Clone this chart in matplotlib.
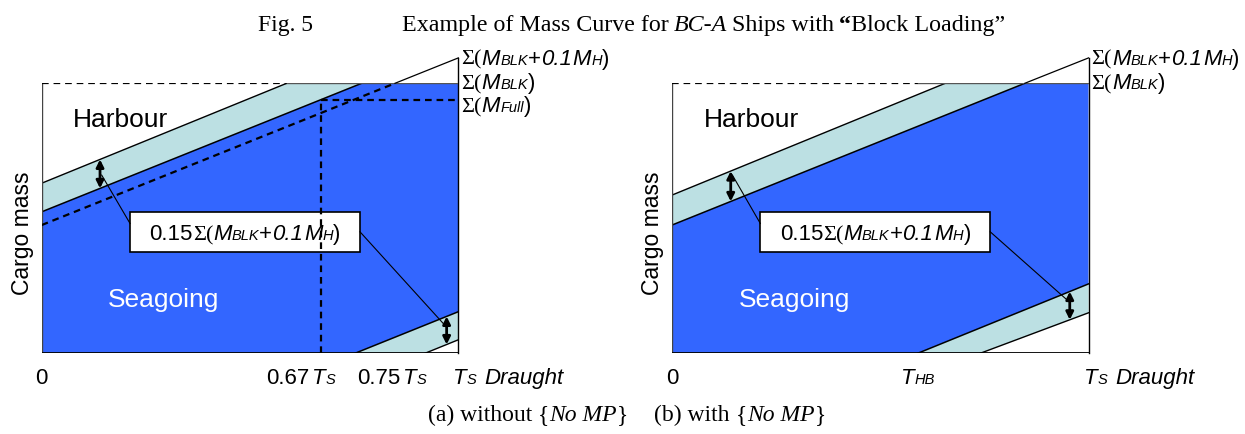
import numpy as np
import matplotlib
matplotlib.use('Agg')
import matplotlib.pyplot as plt
from matplotlib.patches import Polygon, Rectangle

# DATA (x as fraction of Ts, y as fraction of sum(M_BLK))
# panel (a) without {No MP}
a_upper_x = [0, 0.588]          # top of upper light band (harbour limit)
a_upper_y = [0.630, 1.0]
a_blk_x = [0, 0.768]            # top of seagoing region
a_blk_y = [0.524, 1.0]
a_full_x = [0, 0.848, 1.0]      # dashed line, continues to sum(M_BLK+0.1M_H)
a_full_y = [0.475, 1.0, 1.094]
a_lower_x = [0.752, 1.0]        # bottom of seagoing region
a_lower_y = [0, 0.154]
a_bottom_x = [0.92, 1.0]        # bottom of lower light band
a_bottom_y = [0, 0.05]
a_t_part = 0.67
a_m_full = 0.938
a_arrow_x = [0.14, 0.972]

# panel (b) with {No MP}
b_upper_x = [0, 0.656]
b_upper_y = [0.586, 1.0]
b_blk_x = [0, 0.847, 1.0]
b_blk_y = [0.475, 1.0, 1.094]
b_lower_x = [0.59, 1.0]
b_lower_y = [0, 0.257]
b_bottom_x = [0.74, 1.0]
b_bottom_y = [0, 0.15]
b_arrow_x = [0.141, 0.955]
t_hb = 0.59

BLUE = '#3366ff'
LIGHT = '#bce0e3'

W, H = 1245, 434
fig = plt.figure(figsize=(W / 100, H / 100), dpi=100)
renderer = fig.canvas.get_renderer()


# Draw a line of text made of several pieces (display pixels, baseline)
def rich(x, y, pieces, ha='left', color='k'):
    ts, ws = [], []
    for p in pieces:
        if p[0] == '_gap':
            ts.append(None)
            ws.append(p[1])
            continue
        s, size, flags = p
        fam = 'Liberation Serif' if 's' in flags else 'Liberation Sans'
        t = fig.text(0, y, s, transform=None, fontsize=size, family=fam,
                     fontstyle='italic' if 'i' in flags else 'normal',
                     fontweight='bold' if 'b' in flags else 'normal',
                     va='baseline', ha='left', color=color)
        ts.append(t)
        ws.append(t.get_window_extent(renderer).width)
    pos = x - sum(ws) * {'left': 0, 'center': 0.5, 'right': 1}[ha]
    for t, w in zip(ts, ws):
        if t is not None:
            t.set_x(pos)
        pos += w


def disp(ax, x, y):
    return ax.transData.transform((x, y))


def sigma_label(ax, y, inner, dy=-7):
    x0, y0 = disp(ax, 1, y)
    rich(x0 + 3, y0 + dy, [('Σ(', 16, 's')] + inner + [(')', 16, '')])


BLK_PIECES = [('M', 16, 'i'), ('BLK', 10.5, 'i')]
BLKH_PIECES = BLK_PIECES + [('+', 16, ''), ('0.1', 16, 'i'), ('_gap', 1),
                            ('M', 16, 'i'), ('H', 10.5, 'i')]
BOX_PIECES = [('0.15', 16, ''), ('Σ(', 16, 's'), ('M', 16, 'i'), ('BLK', 10.5, 'i'),
              ('+', 16, ''), ('0.1', 16, 'i'), ('_gap', 1), ('M', 16, 'i'),
              ('H', 10.5, 'i'), (')', 16, '')]


def panel(ax, up_x, up_y, blk_x, blk_y, low_x, low_y, bot_x, bot_y, arrow_x):
    ax.set_xlim(0, 1)
    ax.set_ylim(0, 1)
    ax.axis('off')
    # seagoing region and the two 0.15 bands
    ax.add_patch(Polygon([(0, 0), (0, blk_y[0]), (blk_x[1], 1), (1, 1),
                          (1, low_y[1]), (low_x[0], 0)], fc=BLUE, ec='none'))
    ax.add_patch(Polygon([(0, blk_y[0]), (0, up_y[0]), (up_x[1], 1),
                          (blk_x[1], 1)], fc=LIGHT, ec='none'))
    ax.add_patch(Polygon([(low_x[0], 0), (1, low_y[1]), (1, bot_y[1]),
                          (bot_x[0], 0)], fc=LIGHT, ec='none'))
    ax.plot(up_x, up_y, color='k', lw=1)
    ax.plot(blk_x[:2], blk_y[:2], color='k', lw=1.1)
    ax.plot(low_x, low_y, color='k', lw=1.1)
    ax.plot(bot_x, bot_y, color='k', lw=1)
    # frame
    ax.plot([0, 0], [0, 1], color='#444444', lw=1)
    ax.plot([0, 1], [0, 0], color='k', lw=1.3)
    ax.plot([1, 1], [0, 1.094], color='k', lw=1, clip_on=False)
    ax.plot([0, t_hb], [1, 1], color='k', lw=1.6, dashes=(3, 2.2))
    ax.plot([t_hb, 1], [1, 1], color='#555555', lw=1)
    # arrows showing the 0.15 band width
    ends = [(np.interp(arrow_x[0], up_x, up_y), np.interp(arrow_x[0], blk_x, blk_y)),
            (np.interp(arrow_x[1], low_x, low_y), np.interp(arrow_x[1], bot_x, bot_y))]
    for x, (ya, yb) in zip(arrow_x, ends):
        ax.annotate('', xy=(x, ya), xytext=(x, yb),
                    arrowprops=dict(arrowstyle='<|-|>', color='k', lw=2,
                                    mutation_scale=11, shrinkA=0, shrinkB=0))
    ax.text(0.19, 0.837, 'Harbour', fontsize=19, family='Liberation Sans',
            ha='center', va='baseline')
    ax.text(0.293, 0.173, 'Seagoing', fontsize=19, family='Liberation Sans',
            ha='center', va='baseline', color='white')
    # label box with leader lines
    ax.add_patch(Rectangle((0.212, 0.375), 0.552, 0.148, fc='white', ec='k', lw=1.2))
    ax.plot([0.212, arrow_x[0] + 0.004], [0.481, 0.66], color='k', lw=0.8)
    ax.plot([0.764, arrow_x[1]], [0.45, ends[1][0] - 0.04], color='k', lw=0.8)
    cx, cy = disp(ax, 0.488, 0.449)
    rich(cx, cy - 8, BOX_PIECES, ha='center')
    # cargo mass label
    x0, _ = disp(ax, 0, 0)
    fig.text(x0 - 19, H - 233, 'Cargo mass', transform=None, rotation=90, fontsize=16.5,
             family='Liberation Sans', ha='center', va='center')


ax_a = fig.add_axes([41.7 / W, (H - 353.3) / H, 416.6 / W, 270 / H])
ax_b = fig.add_axes([672 / W, (H - 353.3) / H, 416.5 / W, 270 / H])

panel(ax_a, a_upper_x, a_upper_y, a_blk_x, a_blk_y, a_lower_x, a_lower_y,
      a_bottom_x, a_bottom_y, a_arrow_x)
panel(ax_b, b_upper_x, b_upper_y, b_blk_x, b_blk_y, b_lower_x, b_lower_y,
      b_bottom_x, b_bottom_y, b_arrow_x)

# extra lines of panel (a)
ax_a.plot(a_full_x[:2], a_full_y[:2], color='k', lw=1.6, dashes=(3, 2.2))
ax_a.plot(a_full_x[1:], a_full_y[1:], color='k', lw=0.9, clip_on=False)
ax_a.plot([a_t_part, a_t_part], [0, a_m_full], color='k', lw=1.6, dashes=(3, 2.2))
ax_a.plot([a_t_part, 1], [a_m_full, a_m_full], color='k', lw=1.6, dashes=(3, 2.2))
# extension of the seagoing limit in panel (b)
ax_b.plot(b_blk_x[1:], b_blk_y[1:], color='k', lw=0.9, clip_on=False)

# labels to the right of the panels
sigma_label(ax_a, a_full_y[-1], BLKH_PIECES)
sigma_label(ax_a, 1.0, BLK_PIECES, dy=-6)
sigma_label(ax_a, a_m_full, [('M', 16, 'i'), ('Full', 10.5, 'i')], dy=-12)
sigma_label(ax_b, b_blk_y[-1], BLKH_PIECES)
sigma_label(ax_b, 1.0, BLK_PIECES, dy=-6)

# draught tick labels
base = H - 384
TS = [('T', 16, 'i'), ('S', 10.5, 'i')]
rich(disp(ax_a, 0, 0)[0], base, [('0', 16, '')], ha='center')
rich(disp(ax_a, 0.704, 0)[0], base, [('0.67', 16, ''), ('_gap', 2)] + TS, ha='right')
rich(disp(ax_a, 0.758, 0)[0], base, [('0.75', 16, ''), ('_gap', 2)] + TS, ha='left')
rich(disp(ax_a, 0.988, 0)[0], base, TS + [('_gap', 8), ('Draught', 16, 'i')], ha='left')
rich(disp(ax_b, 0, 0)[0], base, [('0', 16, '')], ha='center')
rich(disp(ax_b, t_hb, 0)[0], base, [('T', 16, 'i'), ('HB', 10.5, 'i')], ha='center')
rich(disp(ax_b, 0.988, 0)[0], base, TS + [('_gap', 8), ('Draught', 16, 'i')], ha='left')

# figure title and caption
rich(258, H - 31, [('Fig. 5', 17, 's')])
rich(402, H - 31, [('Example of Mass Curve for', 17.3, 's'), ('_gap', 5), ('BC-A', 17.3, 'si'),
                   ('_gap', 5), ('Ships with', 17.3, 's'), ('_gap', 5), ('\u201c', 17.3, 'sb'),
                   ('Block Loading\u201d', 17.3, 's')])
rich(428, H - 421, [('(a) without', 17, 's'), ('_gap', 6), ('{', 17, 's'), ('No MP', 17, 'si'),
                    ('}', 17, 's'), ('_gap', 26), ('(b) with', 17, 's'), ('_gap', 6),
                    ('{', 17, 's'), ('No MP', 17, 'si'), ('}', 17, 's')])

fig.savefig('out.png', dpi=100)
